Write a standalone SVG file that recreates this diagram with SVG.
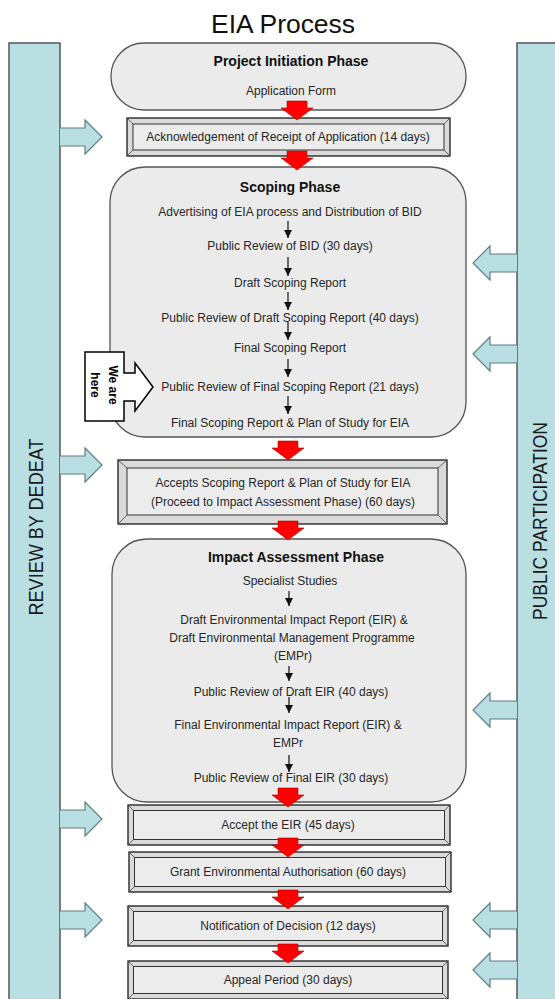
<svg xmlns="http://www.w3.org/2000/svg" xmlns:xlink="http://www.w3.org/1999/xlink" width="555" height="999" viewBox="0 0 555 999">
<defs>
<style>
.bar{fill:#b9dfe3;stroke:#555;stroke-width:1.5}
.bt{font-family:"Liberation Sans",Arial,sans-serif;font-size:21px;fill:#1a1a1a;text-anchor:middle}
.phase{fill:#ebebeb;stroke:#555;stroke-width:1.3}
.bo{fill:#dadada;stroke:#1a1a1a;stroke-width:1.3}
.bi{fill:#ececec;stroke:#333;stroke-width:1}
.bl{stroke:#444;stroke-width:0.8;fill:none}
.t{font-family:"Liberation Sans",Arial,sans-serif;font-size:12px;fill:#262626;text-anchor:middle}
.h{font-family:"Liberation Sans",Arial,sans-serif;font-size:14px;font-weight:bold;fill:#111;text-anchor:middle}
.red{fill:#ff0000;stroke:#b00000;stroke-width:0.6}
.blue{fill:#b9dfe3;stroke:#5f7f82;stroke-width:1.2}
.sm{stroke:#111;stroke-width:1.2;fill:none;marker-end:url(#ah)}
</style>
<marker id="ah" viewBox="0 0 8 8" refX="8" refY="4" markerWidth="8" markerHeight="8" markerUnits="userSpaceOnUse" orient="auto"><path d="M0,0 L8,4 L0,8 z" fill="#111"/></marker>
<path id="ra" class="red" d="M-10,0 H10 V7 H16 L0,19 L-16,7 H-10 Z"/>
<path id="la" class="blue" d="M0,-9 H25 V-17 L42,0 L25,17 V9 H0"/>
<path id="rla" class="blue" d="M0,-9 H-27 V-17 L-44,0 L-27,17 V9 H0"/>
</defs>
<rect width="555" height="999" fill="#fff"/>
<text x="283" y="33" font-family="Liberation Sans, Arial, sans-serif" font-size="25" fill="#111" text-anchor="middle" textLength="144" lengthAdjust="spacingAndGlyphs">EIA Process</text>

<g id="review-bar">
<rect class="bar" x="9" y="43" width="51" height="970"/>
<text class="bt" transform="translate(43,527) rotate(-90)" textLength="177" lengthAdjust="spacingAndGlyphs">REVIEW BY DEDEAT</text>
</g>
<g id="public-bar">
<rect class="bar" x="517" y="43" width="50" height="970"/>
<text class="bt" transform="translate(547,521) rotate(-90)" textLength="198" lengthAdjust="spacingAndGlyphs">PUBLIC PARTICIPATION</text>
</g>

<g id="initiation">
<rect class="phase" x="111" y="43" width="355" height="67" rx="33"/>
<text class="h" x="291" y="66">Project Initiation Phase</text>
<text class="t" x="291" y="95">Application Form</text>
</g>

<g id="acknowledgement">
<rect class="bo" x="127" y="118" width="323" height="38"/>
<rect class="bi" x="133" y="124" width="311" height="26"/>
<path class="bl" d="M127,118 L133,124 M450,118 L444,124 M127,156 L133,150 M450,156 L444,150"/>
<text class="t" x="288" y="141">Acknowledgement of Receipt of Application (14 days)</text>
</g>

<g id="scoping">
<rect class="phase" x="110" y="167" width="356" height="270" rx="35"/>
<text class="h" x="290" y="192">Scoping Phase</text>
<text class="t" x="290" y="216">Advertising of EIA process and Distribution of BID</text>
<text class="t" x="290" y="250">Public Review of BID (30 days)</text>
<text class="t" x="290" y="287">Draft Scoping Report</text>
<text class="t" x="290" y="322">Public Review of Draft Scoping Report (40 days)</text>
<text class="t" x="290" y="352">Final Scoping Report</text>
<text class="t" x="290" y="391">Public Review of Final Scoping Report (21 days)</text>
<text class="t" x="290" y="427">Final Scoping Report &amp; Plan of Study for EIA</text>
</g>

<g id="we-are-here">
<path d="M85,352 H124 V373 H135 V363 L153,387 L135,411 V401 H124 V421 H85 Z" fill="#fff" stroke="#000" stroke-width="1.5"/>
<text transform="translate(104,385) rotate(90)" font-family="Liberation Sans, Arial, sans-serif" font-size="12" font-weight="bold" fill="#000" text-anchor="middle"><tspan x="0" y="-5">We are</tspan><tspan x="0" y="13">here</tspan></text>
</g>

<g id="accepts-scoping">
<rect class="bo" x="118" y="460" width="329" height="64"/>
<rect class="bi" x="127" y="468" width="311" height="47"/>
<path class="bl" d="M118,460 L127,468 M447,460 L438,468 M118,524 L127,515 M447,524 L438,515"/>
<text class="t" x="283" y="487">Accepts Scoping Report &amp; Plan of Study for EIA</text>
<text class="t" x="283" y="506">(Proceed to Impact Assessment Phase) (60 days)</text>
</g>

<g id="impact">
<rect class="phase" x="112" y="539" width="354" height="263" rx="35"/>
<text class="h" x="296" y="562">Impact Assessment Phase</text>
<text class="t" x="290" y="585">Specialist Studies</text>
<text class="t" x="294" y="624">Draft Environmental Impact Report (EIR) &amp;</text>
<text class="t" x="292" y="642">Draft Environmental Management Programme</text>
<text class="t" x="293" y="660">(EMPr)</text>
<text class="t" x="291" y="696">Public Review of Draft EIR (40 days)</text>
<text class="t" x="288" y="729">Final Environmental Impact Report (EIR) &amp;</text>
<text class="t" x="288" y="747">EMPr</text>
<text class="t" x="291" y="782">Public Review of Final EIR (30 days)</text>
</g>

<g id="accept-eir">
<rect class="bo" x="128" y="805" width="322" height="40"/>
<rect class="bi" x="133.5" y="810.5" width="311" height="29"/>
<path class="bl" d="M128,805 L133.5,810.5 M450,805 L444.5,810.5 M128,845 L133.5,839.5 M450,845 L444.5,839.5"/>
<text class="t" x="288" y="829">Accept the EIR (45 days)</text>
</g>

<g id="grant">
<rect class="bo" x="129" y="852" width="322" height="40"/>
<rect class="bi" x="134.5" y="857.5" width="311" height="29"/>
<path class="bl" d="M129,852 L134.5,857.5 M451,852 L445.5,857.5 M129,892 L134.5,886.5 M451,892 L445.5,886.5"/>
<text class="t" x="288" y="876">Grant Environmental Authorisation (60 days)</text>
</g>

<g id="notification">
<rect class="bo" x="128" y="906" width="320" height="40"/>
<rect class="bi" x="133.5" y="911.5" width="309" height="29"/>
<path class="bl" d="M128,906 L133.5,911.5 M448,906 L442.5,911.5 M128,946 L133.5,940.5 M448,946 L442.5,940.5"/>
<text class="t" x="288" y="930">Notification of Decision (12 days)</text>
</g>

<g id="appeal">
<rect class="bo" x="128" y="961" width="320" height="38"/>
<rect class="bi" x="133.5" y="966.5" width="309" height="27"/>
<path class="bl" d="M128,961 L133.5,966.5 M448,961 L442.5,966.5 M128,999 L133.5,993.5 M448,999 L442.5,993.5"/>
<text class="t" x="288" y="984">Appeal Period (30 days)</text>
</g>

<g id="connectors">
<use xlink:href="#ra" x="297" y="101"/>
<use xlink:href="#ra" x="297" y="151"/>
<use xlink:href="#ra" x="288" y="441"/>
<use xlink:href="#ra" x="288" y="521"/>
<use xlink:href="#ra" x="288" y="788"/>
<use xlink:href="#ra" x="288" y="838"/>
<use xlink:href="#ra" x="288" y="890"/>
<use xlink:href="#ra" x="288" y="944"/>

<line class="sm" x1="288" y1="221" x2="288" y2="238"/>
<line class="sm" x1="288" y1="257" x2="288" y2="276"/>
<line class="sm" x1="288" y1="292" x2="288" y2="310"/>
<line class="sm" x1="288" y1="322" x2="288" y2="340"/>
<line class="sm" x1="288" y1="359" x2="288" y2="377"/>
<line class="sm" x1="288" y1="396" x2="288" y2="414"/>
<line class="sm" x1="289" y1="591" x2="289" y2="606"/>
<line class="sm" x1="289" y1="666" x2="289" y2="681"/>
<line class="sm" x1="289" y1="697" x2="289" y2="713"/>
<line class="sm" x1="289" y1="755" x2="289" y2="772"/>

<use xlink:href="#la" x="60" y="137"/>
<use xlink:href="#la" x="60" y="465"/>
<use xlink:href="#la" x="60" y="819"/>
<use xlink:href="#la" x="60" y="920"/>

<use xlink:href="#rla" x="517" y="263"/>
<use xlink:href="#rla" x="517" y="354"/>
<use xlink:href="#rla" x="517" y="710"/>
<use xlink:href="#rla" x="517" y="920"/>
<use xlink:href="#rla" x="517" y="970"/>
</g>
</svg>
